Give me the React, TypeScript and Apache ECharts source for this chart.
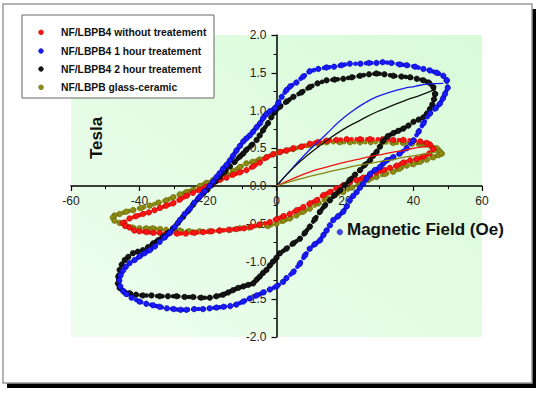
import React, { useEffect, useRef } from "react";
import * as echarts from "echarts";

const xTicks = [-60, -40, -20, 0, 20, 40, 60];
const yRange = [-2, 2];

const seriesNames = [
  "NF/LBPB4 without treatement",
  "NF/LBPB4 1 hour treatement",
  "NF/LBPB4 2 hour treatement",
  "NF/LBPB glass-ceramic",
];

const redLoop: number[][] = [
  [45.8, 0.49], [44.8, 0.55], [43.9, 0.57], [42, 0.59], [40, 0.6], [37, 0.61], [34.1, 0.61], [31, 0.62], [27.3, 0.62],
  [24.4, 0.62], [20.5, 0.62], [17.5, 0.61], [14.6, 0.6], [12, 0.58], [9.7, 0.56], [7.3, 0.52], [4.9, 0.5], [2.9, 0.47],
  [1, 0.45], [-1, 0.42], [-2.9, 0.38], [-4.9, 0.31], [-6.8, 0.26], [-8.8, 0.21], [-10.7, 0.18], [-12.7, 0.15],
  [-14.6, 0.11], [-16.6, 0.08], [-18.5, 0.04], [-20.5, -0.01], [-22.4, -0.05], [-24.4, -0.09], [-26.3, -0.13],
  [-28.2, -0.18], [-30.2, -0.23], [-32.2, -0.26], [-34, -0.29], [-35.6, -0.32], [-37.3, -0.35], [-39, -0.37],
  [-41, -0.4], [-42.9, -0.43], [-44.9, -0.49], [-44.2, -0.53], [-42.9, -0.55], [-41.5, -0.59], [-40, -0.6],
  [-38, -0.61], [-36, -0.62], [-34.1, -0.62], [-31.5, -0.63], [-29, -0.63], [-26.5, -0.63], [-24, -0.62],
  [-21.4, -0.61], [-19, -0.6], [-16.6, -0.59], [-14, -0.58], [-11.7, -0.57], [-9.5, -0.56], [-7.3, -0.54],
  [-5, -0.51], [-2, -0.48], [0, -0.44], [2, -0.4], [3.9, -0.37], [5.9, -0.32], [7.8, -0.28], [9.8, -0.23],
  [11.7, -0.19], [13.7, -0.12], [15.6, -0.08], [17.5, -0.03], [19.5, 0.01], [21.4, 0.05], [23.4, 0.08],
  [25.3, 0.11], [27.3, 0.14], [29.2, 0.18], [31.2, 0.21], [33.1, 0.24], [35.1, 0.27], [37, 0.31], [39, 0.34],
  [41, 0.36], [42.9, 0.39], [44.6, 0.43], [45.8, 0.49],
];

const blueLoop: number[][] = [
  [49.7, 1.4], [48.7, 1.46], [46.8, 1.5], [44.8, 1.53], [42.9, 1.55], [40.5, 1.58], [38, 1.6], [36, 1.61],
  [33.5, 1.63], [31, 1.64], [29.2, 1.63], [27, 1.63], [24.5, 1.62], [21.4, 1.62], [19, 1.6], [16.8, 1.58],
  [14.6, 1.57], [12.2, 1.55], [9.7, 1.52], [7.8, 1.45], [5.8, 1.37], [4, 1.32], [2.9, 1.27], [1.5, 1.18],
  [0.5, 1.1], [-0.5, 1.03], [-1.9, 0.99], [-3, 0.95], [-3.9, 0.9], [-4.8, 0.83], [-5.8, 0.78], [-6.8, 0.72],
  [-7.8, 0.67], [-8.8, 0.63], [-9.7, 0.59], [-10.7, 0.53], [-11.7, 0.47], [-12.7, 0.4], [-13.6, 0.34],
  [-14.6, 0.28], [-15.6, 0.23], [-16.6, 0.17], [-17.5, 0.12], [-18.5, 0.06], [-19.5, 0], [-21, -0.07],
  [-22.4, -0.14], [-24, -0.22], [-25.3, -0.3], [-26.8, -0.37], [-28.2, -0.45], [-29.7, -0.54], [-31.2, -0.62],
  [-32.6, -0.68], [-34.1, -0.74], [-35.5, -0.8], [-37, -0.85], [-38.5, -0.89], [-39.9, -0.93], [-41.4, -0.98],
  [-42.9, -1.02], [-44, -1.07], [-44.8, -1.12], [-45.5, -1.18], [-45.9, -1.25], [-45.6, -1.33], [-44.8, -1.39],
  [-43.9, -1.43], [-42.3, -1.48], [-40, -1.53], [-38, -1.56], [-36, -1.58], [-34.1, -1.6], [-32, -1.62],
  [-30, -1.63], [-28, -1.64], [-26.3, -1.64], [-24, -1.63], [-21.5, -1.63], [-19.5, -1.62], [-17.5, -1.61],
  [-15.5, -1.6], [-13.5, -1.59], [-11.7, -1.57], [-9.7, -1.53], [-7.8, -1.49], [-5.8, -1.45], [-3.9, -1.41],
  [-1.9, -1.37], [0, -1.33], [1.9, -1.27], [2.9, -1.22], [4.9, -1.14], [6.8, -1.03], [8.3, -0.92], [9.7, -0.83],
  [11.2, -0.77], [12.7, -0.72], [13.7, -0.65], [14.6, -0.59], [15.6, -0.52], [16.6, -0.45], [18, -0.4],
  [19.5, -0.34], [20.5, -0.27], [21.4, -0.19], [22.4, -0.13], [23.4, -0.08], [24.4, -0.02], [25.3, 0.03],
  [26.3, 0.1], [27.3, 0.16], [28.7, 0.21], [30.2, 0.25], [31.2, 0.3], [32.2, 0.34], [34, 0.38], [36, 0.43],
  [38, 0.5], [39.9, 0.6], [41.5, 0.72], [42.9, 0.83], [44.8, 0.96], [46.5, 1.03], [47.7, 1.09], [48.6, 1.16],
  [49.2, 1.22], [50, 1.3], [49.7, 1.4],
];

const blueOutliers: number[][] = [[18.5, -0.61]];

const blackLoop: number[][] = [
  [46.3, 1.22], [45.8, 1.31], [44.5, 1.37], [42.9, 1.4], [41, 1.42], [39, 1.44], [36.5, 1.45], [34.1, 1.46],
  [31.5, 1.48], [29.2, 1.49], [27, 1.48], [24.4, 1.46], [22, 1.44], [19.5, 1.42], [17, 1.41], [14.6, 1.4],
  [12, 1.36], [9.7, 1.31], [7.3, 1.24], [4.9, 1.18], [3, 1.12], [1, 1.05], [-0.5, 0.98], [-1.5, 0.91],
  [-2.5, 0.83], [-3.9, 0.74], [-4.9, 0.67], [-5.8, 0.61], [-7.3, 0.54], [-8.8, 0.48], [-9.7, 0.43],
  [-10.7, 0.39], [-12.2, 0.32], [-13.6, 0.26], [-15.1, 0.19], [-16.6, 0.12], [-17.8, 0.06], [-19, 0.01],
  [-20.2, -0.05], [-21.4, -0.1], [-22.9, -0.17], [-24.4, -0.25], [-25.8, -0.33], [-27.3, -0.41], [-28.8, -0.49],
  [-30.2, -0.56], [-31.7, -0.62], [-33.1, -0.67], [-34.6, -0.72], [-36, -0.76], [-37.5, -0.81], [-39, -0.85],
  [-40.5, -0.87], [-41.9, -0.89], [-43.3, -0.94], [-44.3, -0.98], [-45.2, -1.04], [-45.8, -1.11], [-46.2, -1.2],
  [-46.3, -1.29], [-45.8, -1.35], [-44.5, -1.4], [-42.9, -1.42], [-41, -1.44], [-39, -1.45], [-36.5, -1.45],
  [-34.1, -1.46], [-31.7, -1.46], [-29.2, -1.46], [-26.8, -1.47], [-24.4, -1.47], [-22, -1.48], [-19.5, -1.48],
  [-17.5, -1.46], [-15.6, -1.44], [-14.1, -1.41], [-12.7, -1.38], [-11.2, -1.35], [-9.7, -1.33], [-8.3, -1.31],
  [-6.8, -1.29], [-5.8, -1.24], [-4.9, -1.2], [-3.9, -1.15], [-2.9, -1.11], [-1.9, -1.05], [-1, -1], [0, -0.95],
  [1, -0.89], [2.9, -0.83], [4.9, -0.76], [6.8, -0.7], [8.3, -0.62], [9.7, -0.54], [11.2, -0.44], [12.7, -0.34],
  [14.1, -0.26], [15.6, -0.19], [17, -0.12], [18.5, -0.06], [19.9, 0.01], [21.4, 0.08], [22.9, 0.15],
  [24.4, 0.21], [25.8, 0.28], [27.3, 0.34], [28.2, 0.4], [29.2, 0.45], [30.2, 0.52], [31.2, 0.6], [32.5, 0.66],
  [34.1, 0.7], [35.5, 0.73], [37, 0.76], [38.5, 0.8], [40, 0.85], [41.5, 0.88], [42.9, 0.91], [43.9, 0.96],
  [44.8, 1.02], [45.5, 1.08], [46, 1.15], [46.3, 1.22],
];

const oliveLoop: number[][] = [
  [48.2, 0.43], [47.5, 0.47], [46.8, 0.5], [45, 0.53], [43.5, 0.55], [41.9, 0.55], [39.5, 0.56], [37, 0.57],
  [34.1, 0.57], [31, 0.58], [27.5, 0.58], [24.4, 0.58], [21.5, 0.58], [18.5, 0.58], [14.6, 0.58], [12, 0.56],
  [9.7, 0.54], [7.3, 0.52], [4.9, 0.49], [2.9, 0.47], [1, 0.45], [-1, 0.42], [-3, 0.38], [-5, 0.35], [-7, 0.32],
  [-8.8, 0.3], [-10.7, 0.25], [-12.7, 0.2], [-14.6, 0.16], [-16.6, 0.12], [-18.5, 0.08], [-20.5, 0.04],
  [-22.4, 0], [-24.4, -0.05], [-26.3, -0.08], [-28.2, -0.11], [-30.2, -0.15], [-32.2, -0.19], [-34.5, -0.22],
  [-37, -0.26], [-39.5, -0.29], [-41.9, -0.32], [-43.9, -0.34], [-45.8, -0.37], [-47.3, -0.39], [-47.8, -0.42],
  [-47.3, -0.46], [-45.8, -0.49], [-44, -0.52], [-42, -0.55], [-40, -0.56], [-38, -0.56], [-36.1, -0.56],
  [-34, -0.57], [-32.2, -0.58], [-30, -0.59], [-28.2, -0.59], [-25.5, -0.6], [-22.4, -0.6], [-19.5, -0.6],
  [-16.6, -0.59], [-13.5, -0.58], [-10.7, -0.56], [-8, -0.55], [-4.9, -0.52], [-2.5, -0.53], [0, -0.5],
  [2, -0.46], [3.9, -0.43], [5.8, -0.39], [7.8, -0.34], [9.7, -0.3], [12.2, -0.23], [14.6, -0.17], [17, -0.12],
  [19.5, -0.08], [22, -0.02], [24.4, 0.03], [26.8, 0.08], [29.2, 0.12], [31.7, 0.16], [34.1, 0.19], [36, 0.23],
  [38, 0.27], [40, 0.29], [41.9, 0.32], [43.9, 0.35], [45.8, 0.38], [47.3, 0.41], [48.2, 0.43],
];

const blueInit: number[][] = [
  [0, 0], [4.9, 0.25], [9.7, 0.48], [14.6, 0.69], [18.5, 0.86], [22.4, 1.0], [25.8, 1.1], [29.2, 1.18],
  [33, 1.24], [37, 1.29], [40.5, 1.32], [43.9, 1.35], [48.7, 1.36],
];
const blackInit: number[][] = [
  [0, 0], [4.9, 0.24], [9.7, 0.43], [14.6, 0.6], [19.5, 0.75], [24.4, 0.87], [29.2, 0.98], [34.1, 1.07],
  [38, 1.14], [41.9, 1.2], [45.8, 1.27],
];
const redInit: number[][] = [
  [0, 0], [5, 0.1], [10, 0.19], [14.6, 0.25], [19.5, 0.31], [23.4, 0.35], [27.3, 0.39], [31, 0.42],
  [34.1, 0.45], [37, 0.47], [40, 0.5], [43, 0.52], [45.8, 0.53],
];
const oliveInit: number[][] = [
  [0, 0], [5, 0.07], [10, 0.13], [14.6, 0.18], [19.5, 0.23], [23.4, 0.27], [27.3, 0.3], [31, 0.33],
  [34.1, 0.35], [37, 0.38], [40, 0.4], [44, 0.43], [47.8, 0.46],
];

const FONT = "'Liberation Sans', Arial, sans-serif";

const COLORS = {
  red: { fill: "#ff1414", border: "#a80000" },
  blue: { fill: "#1a1aff", border: "#00009a" },
  black: { fill: "#141414", border: "#000000" },
  olive: { fill: "#8c8c12", border: "#5e5e00" },
};
const legendColors = [COLORS.red, COLORS.blue, COLORS.black, COLORS.olive];

// layout (pixels)
const W = 537;
const H = 393;
const GRID = { left: 71, right: 55, top: 35, bottom: 56 };

function loopSeries(name: string, data: number[][], c: { fill: string; border: string }, z: number) {
  return {
    type: "line",
    name,
    data,
    symbol: "circle",
    symbolSize: 5.5,
    showSymbol: true,
    smooth: false,
    z,
    itemStyle: { color: c.fill, borderColor: c.border, borderWidth: 0.6 },
    lineStyle: { color: c.fill, width: 4.6, type: [0.1, 5.2], cap: "round" },
    emphasis: { disabled: true },
  };
}

function initSeries(name: string, data: number[][], color: string) {
  return {
    type: "line",
    name,
    data,
    smooth: true,
    showSymbol: false,
    symbol: "none",
    z: 10,
    lineStyle: { color, width: 1.3 },
    emphasis: { disabled: true },
  };
}

export default function App() {
  const ref = useRef<HTMLDivElement>(null);
  useEffect(() => {
    if (!ref.current) return;
    const chart = echarts.init(ref.current, undefined, { renderer: "svg" });

    const gridW = W - GRID.left - GRID.right;
    const gridH = H - GRID.top - GRID.bottom;
    const xMin = xTicks[0];
    const xMax = xTicks[xTicks.length - 1];
    // shift the axes so they cross at the origin
    const yAxisOffset = -((0 - xMin) / (xMax - xMin)) * gridW;
    const xAxisOffset = -((0 - yRange[0]) / (yRange[1] - yRange[0])) * gridH;

    const legendY = [32.3, 51, 69, 87.3];
    const legendGraphics: any[] = [
      {
        type: "rect",
        z: 200,
        shape: { x: 22, y: 15, width: 192, height: 83 },
        style: { fill: "#fff", stroke: "#666", lineWidth: 1 },
      },
    ];
    seriesNames.forEach((n, i) => {
      legendGraphics.push({
        type: "circle",
        z: 201,
        shape: { cx: 41, cy: legendY[i], r: 2.4 },
        style: { fill: legendColors[i].fill, stroke: legendColors[i].border, lineWidth: 0.5 },
      });
      legendGraphics.push({
        type: "text",
        z: 201,
        x: 61,
        y: legendY[i],
        style: {
          text: n,
          fontSize: 10.3,
          fontWeight: "bold",
          fontFamily: FONT,
          fill: "#111",
          align: "left",
          verticalAlign: "middle",
        },
      });
    });

    const option: any = {
      animation: false,
      backgroundColor: "#ffffff",
      graphic: [
        { type: "rect", z: -20, shape: { x: 7, y: 9, width: 529, height: 379 }, style: { fill: "#000" } },
        {
          type: "rect",
          z: -19,
          shape: { x: 3, y: 4, width: 529, height: 379 },
          style: { fill: "#fff", stroke: "#9a9a9a", lineWidth: 1.5 },
        },
        {
          type: "text",
          z: 100,
          x: 96,
          y: 138,
          rotation: Math.PI / 2,
          style: {
            text: "Tesla",
            fontSize: 17,
            fontWeight: "bold",
            fontFamily: FONT,
            fill: "#111",
            align: "center",
            verticalAlign: "middle",
          },
        },
        {
          type: "text",
          z: 100,
          x: 347,
          y: 229,
          style: {
            text: "Magnetic Field (Oe)",
            fontSize: 17,
            fontWeight: "bold",
            fontFamily: FONT,
            fill: "#111",
            align: "left",
            verticalAlign: "middle",
          },
        },
        ...legendGraphics,
      ],
      grid: {
        left: GRID.left,
        right: GRID.right,
        top: GRID.top,
        bottom: GRID.bottom,
        show: true,
        borderWidth: 0,
        backgroundColor: new echarts.graphic.LinearGradient(0, 1, 1, 0, [
          { offset: 0, color: "#eefdee" },
          { offset: 1, color: "#d8fbd8" },
        ]),
      },
      xAxis: {
        type: "value",
        position: "bottom",
        offset: xAxisOffset,
        min: xMin,
        max: xMax,
        interval: 20,
        axisLine: { onZero: false, lineStyle: { color: "#000", width: 1.5 } },
        axisTick: { show: true, length: 5, lineStyle: { color: "#000", width: 1.2 } },
        minorTick: { show: true, splitNumber: 2, length: 3, lineStyle: { color: "#000", width: 1 } },
        splitLine: { show: false },
        axisLabel: { fontSize: 12, fontFamily: FONT, color: "#222", margin: 9 },
      },
      yAxis: {
        type: "value",
        position: "left",
        offset: yAxisOffset,
        min: yRange[0],
        max: yRange[1],
        interval: 0.5,
        axisLine: { onZero: false, lineStyle: { color: "#000", width: 1.5 } },
        axisTick: { show: true, length: 5, lineStyle: { color: "#000", width: 1.2 } },
        minorTick: { show: true, splitNumber: 2, length: 3, lineStyle: { color: "#000", width: 1 } },
        splitLine: { show: false },
        axisLabel: {
          fontSize: 12,
          fontFamily: FONT,
          color: "#222",
          margin: 10,
          formatter: (v: number) => v.toFixed(1),
        },
      },
      series: [
        loopSeries(seriesNames[3], oliveLoop, COLORS.olive, 2),
        loopSeries(seriesNames[0], redLoop, COLORS.red, 3),
        loopSeries(seriesNames[2], blackLoop, COLORS.black, 4),
        loopSeries(seriesNames[1], blueLoop, COLORS.blue, 5),
        {
          type: "scatter",
          name: "blue-outliers",
          data: blueOutliers,
          symbol: "circle",
          symbolSize: 5.5,
          z: 5,
          itemStyle: { color: COLORS.blue.fill, borderColor: COLORS.blue.border, borderWidth: 0.6 },
          emphasis: { disabled: true },
        },
        initSeries("blue-initial", blueInit, "#1a1aee"),
        initSeries("black-initial", blackInit, "#111111"),
        initSeries("red-initial", redInit, "#ee1111"),
        initSeries("olive-initial", oliveInit, "#858510"),
      ],
    };
    chart.setOption(option);
    return () => chart.dispose();
  }, []);
  return <div ref={ref} style={{ position: "absolute", left: 0, top: 0, width: W, height: H }} />;
}
